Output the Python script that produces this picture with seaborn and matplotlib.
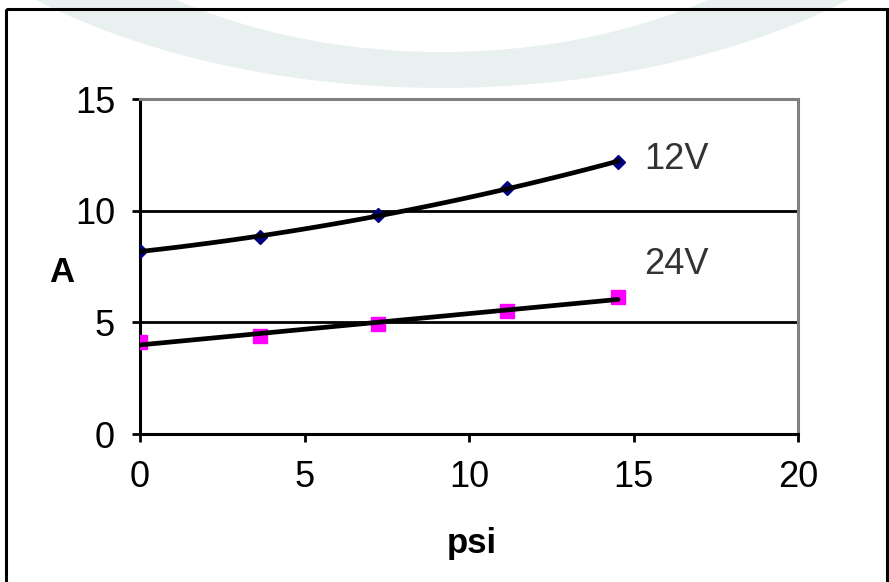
import matplotlib
matplotlib.use("Agg")
import matplotlib.pyplot as plt
import seaborn as sns
import pandas as pd
import numpy as np
from matplotlib.patches import Ellipse, Rectangle

# ---- data ----
psi_12v = [0.0, 3.65, 7.23, 11.16, 14.53]
amps_12v = [8.2, 8.8, 9.8, 11.0, 12.2]
psi_24v = [0.0, 3.65, 7.23, 11.16, 14.53]
amps_24v = [4.12, 4.39, 4.93, 5.5, 6.13]
x_ticks = [0, 5, 10, 15, 20]
y_ticks = [0, 5, 10, 15]
series_labels = ["12V", "24V"]

sns.set_style("white")
plt.rcParams["font.family"] = ["Liberation Sans", "DejaVu Sans"]

W, H = 889, 582
fig = plt.figure(figsize=(W / 100, H / 100), dpi=100)

# background decoration (light ring) in figure pixel coords
deco = fig.add_axes([0, 0, 1, 1], zorder=-5)
deco.set_xlim(0, W)
deco.set_ylim(H, 0)
deco.axis("off")
deco.add_patch(Ellipse((442, -245), 2 * 600, 2 * 333, facecolor="#e9f1f0", edgecolor="none"))
deco.add_patch(Ellipse((442, -245), 2 * 470, 2 * 297, facecolor="white", edgecolor="none"))
deco.add_patch(Rectangle((5.5, 8.5), 881, 700, facecolor="none", edgecolor="black", linewidth=2.2))

ax = fig.add_axes([140 / W, 1 - 434 / H, (798 - 140) / W, (434 - 99) / H])
ax.set_facecolor("none")

df12 = pd.DataFrame({"psi": psi_12v, "A": amps_12v})
df24 = pd.DataFrame({"psi": psi_24v, "A": amps_24v})

ax.plot(df12["psi"], df12["A"], linestyle="none", marker="D", markersize=7,
        color="#000080", zorder=3)
ax.plot(df24["psi"], df24["A"], linestyle="none", marker="s", markersize=9.5,
        color="#ff00ff", zorder=3)
sns.regplot(data=df12, x="psi", y="A", order=2, ci=None, scatter=False, truncate=True,
            ax=ax, line_kws={"color": "black", "linewidth": 3.4, "zorder": 4})
sns.regplot(data=df24, x="psi", y="A", order=1, ci=None, scatter=False, truncate=True,
            ax=ax, line_kws={"color": "black", "linewidth": 3.4, "zorder": 4})

ax.set_xlim(0, 20)
ax.set_ylim(0, 15)
ax.set_xticks(x_ticks)
ax.set_yticks(y_ticks)
ax.set_xticklabels([str(t) for t in x_ticks])
ax.set_yticklabels([str(t) for t in y_ticks])

for yv in y_ticks[1:]:
    ax.axhline(yv, color="black", linewidth=2, zorder=2)

for s in ["left", "bottom"]:
    ax.spines[s].set_visible(True)
    ax.spines[s].set_color("black")
    ax.spines[s].set_linewidth(2.2)
for s in ["top", "right"]:
    ax.spines[s].set_visible(True)
    ax.spines[s].set_color("#808080")
    ax.spines[s].set_linewidth(2.2)

ax.tick_params(axis="both", direction="out", length=6, width=2, color="black",
               labelsize=26, labelcolor="black")
ax.tick_params(axis="x", pad=13, bottom=True)
ax.tick_params(axis="y", pad=12, left=True)

ax.set_xlabel("psi", fontsize=25, fontweight="bold", va="baseline", color="black")
ax.xaxis.set_label_coords((472 - 140) / 658, (434 - 553) / 335)
ax.set_ylabel("A", fontsize=25, fontweight="bold", rotation=0, va="center", ha="center",
              color="black")
ax.yaxis.set_label_coords((62 - 140) / 658, (434 - 272) / 335)

ax.text(16.3, 12.27, series_labels[0], fontsize=26, color="#333333", ha="center", va="center")
ax.text(16.3, 7.57, series_labels[1], fontsize=26, color="#333333", ha="center", va="center")

fig.savefig("out.png", dpi=100)
